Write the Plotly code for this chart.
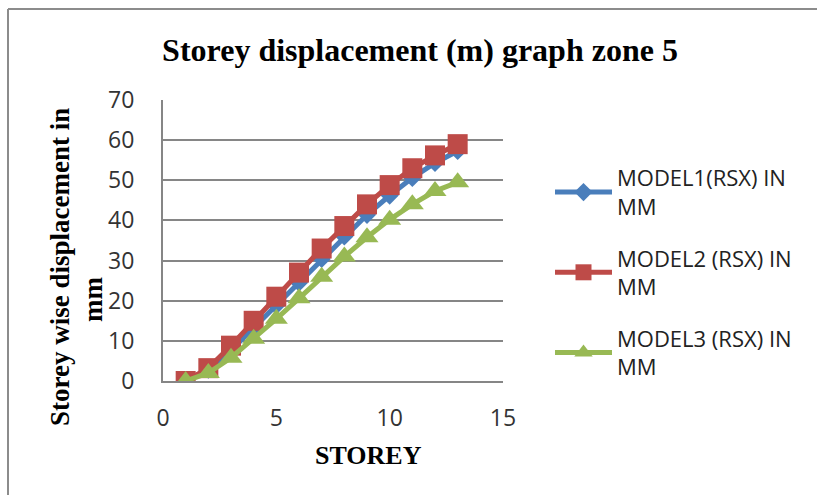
import plotly.graph_objects as go

storey = [1, 2, 3, 4, 5, 6, 7, 8, 9, 10, 11, 12, 13]
model1 = [0, 2.8, 7.6, 13.2, 18.8, 24.5, 30.4, 36.0, 41.4, 46.2, 50.6, 54.3, 57.3]
model2 = [0, 3.2, 8.8, 15.0, 21.0, 27.0, 33.0, 38.6, 44.0, 48.8, 53.0, 56.2, 59.0]
model3 = [0, 2.0, 5.8, 10.5, 15.5, 20.6, 26.0, 31.0, 35.8, 40.2, 44.0, 47.3, 49.5]
names = ["MODEL1(RSX) IN<br>MM", "MODEL2 (RSX) IN<br>MM", "MODEL3 (RSX) IN<br>MM"]
y_ticks = [0, 10, 20, 30, 40, 50, 60, 70]
x_ticks = [0, 5, 10, 15]

colors = ["#4A7EBB", "#BE4B48", "#98B954"]
symbols = ["diamond", "square", "triangle-up"]
sizes = [14, 20, 20]

fig = go.Figure()
for i, (ys, name, c, s, sz) in enumerate(zip([model1, model2, model3], names, colors, symbols, sizes)):
    fig.add_trace(go.Scatter(
        x=storey, y=ys, name=name, mode="lines+markers", legendgroup=f"g{i}",
        line=dict(color=c, width=5),
        marker=dict(symbol=s, size=sz, color=c),
    ))

L, R, T, B = 163, 503, 100, 381
W, H = 817, 495
pw, ph = R - L, B - T


def px(x):
    return (x - L) / pw


def py(y):
    return (B - y) / ph


serif = "Liberation Serif"
sans = "Open Sans"

fig.update_layout(
    width=W, height=H,
    margin=dict(l=L, r=W - R, t=T, b=H - B),
    paper_bgcolor="white", plot_bgcolor="white",
    title=dict(text="Storey displacement (m) graph zone 5",
               font=dict(family=serif, size=32, color="black", weight="bold"),
               x=px(420), xref="paper", xanchor="center",
               y=1 - 50 / H, yanchor="middle"),
    showlegend=True,
    legend=dict(x=px(550), xanchor="left", y=py(157), yanchor="top",
                font=dict(family=sans, size=22, color="#222"),
                bgcolor="rgba(0,0,0,0)", tracegroupgap=20, itemwidth=57),
    shapes=[
        dict(type="line", xref="paper", yref="paper",
             x0=px(8), x1=px(830), y0=py(9), y1=py(9),
             line=dict(color="#8c8c8c", width=2)),
        dict(type="line", xref="paper", yref="paper",
             x0=px(8), x1=px(8), y0=py(9), y1=py(520),
             line=dict(color="#8c8c8c", width=2)),
    ],
    annotations=[
        dict(text="<b>Storey wise displacement in</b>", textangle=-90,
             xref="paper", yref="paper", x=px(60), y=py(267),
             xanchor="center", yanchor="middle", showarrow=False,
             font=dict(family=serif, size=27, color="black")),
        dict(text="<b>mm</b>", textangle=-90,
             xref="paper", yref="paper", x=px(93), y=py(300),
             xanchor="center", yanchor="middle", showarrow=False,
             font=dict(family=serif, size=27, color="black")),
        dict(text="<b>STOREY</b>",
             xref="paper", yref="paper", x=px(368), y=py(455),
             xanchor="center", yanchor="middle", showarrow=False,
             font=dict(family=serif, size=26, color="black")),
    ],
)

fig.update_xaxes(
    range=[0, 15], tickvals=x_ticks, showgrid=False,
    showline=True, linecolor="#868686", linewidth=2,
    ticks="", tickfont=dict(family=sans, size=23, color="#333"),
    ticklabelstandoff=15,
)
fig.update_yaxes(
    range=[0, 70], tickvals=y_ticks, showgrid=True, gridcolor="#868686", gridwidth=1.5,
    showline=True, linecolor="#868686", linewidth=2, zeroline=False,
    ticks="", tickfont=dict(family=sans, size=23, color="#333"),
    ticklabelstandoff=22,
)

fig.write_html("out.html")
